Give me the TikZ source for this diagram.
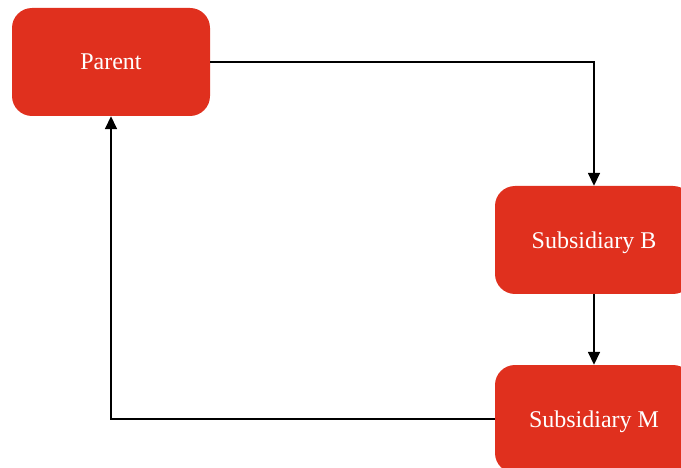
\documentclass[tikz,border=0pt]{standalone}
\usepackage{fontspec}
\setmainfont{Liberation Serif}
\usetikzlibrary{arrows.meta}
\definecolor{boxred}{HTML}{E0301E}
\tikzset{
  entity/.style={fill=boxred, draw=none, rounded corners=20pt, minimum width=198pt, minimum height=108pt, inner sep=0pt, text=white, text depth=0pt, font=\fontsize{24}{28}\selectfont},
  link/.style={draw=black, line width=1.6pt, -{Triangle[length=13pt,width=12pt]}}
}
\begin{document}
\begin{tikzpicture}[x=1pt,y=1pt]
\clip (0,-468) rectangle (681,0);
\useasboundingbox (0,-468) rectangle (681,0);
\node[entity] (parent) at (111,-62) {Parent};
\node[entity] (subb) at (594,-240) {Subsidiary B};
\node[entity] (subm) at (594,-419) {Subsidiary M};
\draw[link] (parent.east) -| (subb.north);
\draw[link] (subb.south) -- (subm.north);
\draw[link] (subm.west) -| (parent.south);
\end{tikzpicture}
\end{document}
